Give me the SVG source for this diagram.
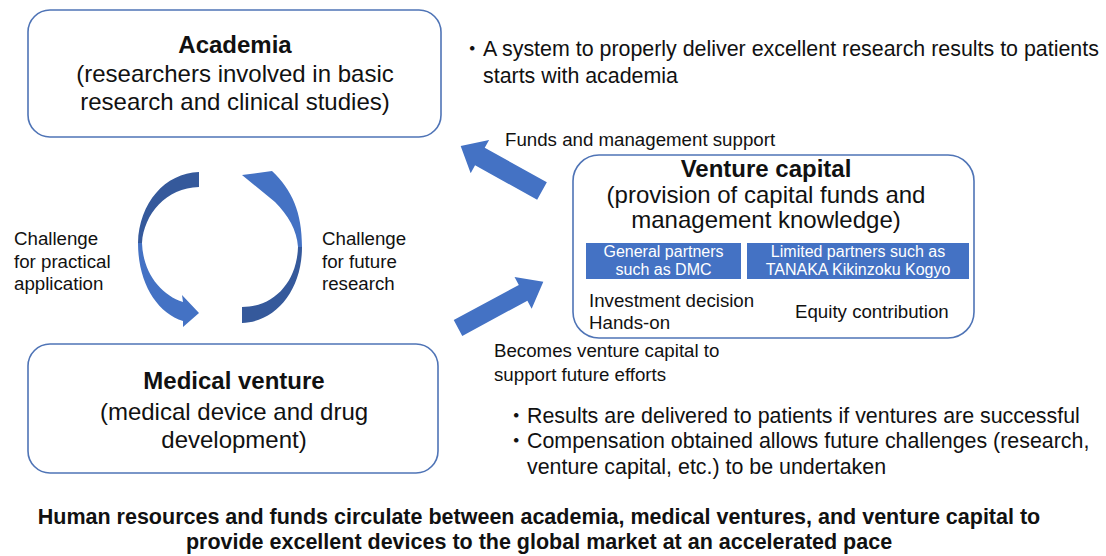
<svg xmlns="http://www.w3.org/2000/svg" width="1106" height="556" viewBox="0 0 1106 556">
<style>
.box{fill:#fff;stroke:#4F74B6;stroke-width:1.6}
.t{font-family:"Liberation Sans","Noto Sans CJK JP",Arial,sans-serif;fill:#111}
.h{font-size:24px;font-weight:bold;text-anchor:middle}
.s{font-size:24px;text-anchor:middle}
.m{font-size:18.7px}
.b{font-size:21.4px}
.bar{fill:#4472C4}
.bt{font-family:"Liberation Sans",Arial,sans-serif;font-size:16px;fill:#fff;text-anchor:middle}
.arr{fill:#4472C4}
.dark{fill:#35599B}
</style>
<rect width="1106" height="556" fill="#fff"/>

<g id="academia">
<rect class="box" x="28" y="10" width="413" height="127" rx="22"/>
<text class="t h" x="235" y="53">Academia</text>
<text class="t s" x="235" y="82">(researchers involved in basic</text>
<text class="t s" x="235" y="110">research and clinical studies)</text>
</g>

<g id="medical-venture">
<rect class="box" x="28" y="344" width="410" height="129" rx="22"/>
<text class="t h" x="234" y="389">Medical venture</text>
<text class="t s" x="234" y="420">(medical device and drug</text>
<text class="t s" x="234" y="448">development)</text>
</g>

<g id="venture-capital">
<rect class="box" x="573" y="155" width="401" height="183" rx="26"/>
<text class="t h" x="766" y="177">Venture capital</text>
<text class="t s" x="766" y="203">(provision of capital funds and</text>
<text class="t s" x="766" y="228">management knowledge)</text>
<rect class="bar" x="586" y="243" width="155" height="36"/>
<text class="bt" x="663.5" y="257">General partners</text>
<text class="bt" x="663.5" y="275">such as DMC</text>
<rect class="bar" x="747" y="243" width="222" height="36"/>
<text class="bt" x="858" y="257">Limited partners such as</text>
<text class="bt" x="858" y="275">TANAKA Kikinzoku Kogyo</text>
<text class="t m" x="589" y="307">Investment decision</text>
<text class="t m" x="589" y="329">Hands-on</text>
<text class="t m" x="795" y="318">Equity contribution</text>
</g>

<g id="connectors">
<path class="dark" d="M199,172 C165,173 139,203 138,243 L142,243 C144,214 166,188 199,187 Z"/>
<path class="arr" d="M138,243 C138,283 157,313 183,321 L183,327 L199,313 L182,295 L183,302 C161,295 143,273 142,243 Z"/>
<path class="dark" d="M242,323 C276,322 302,290 302,247 L298,247 C297,281 275,307 242,307 Z"/>
<path class="arr" d="M302,247 C302,212 292,190 272,171 L242,175 L275,202 C288,215 297,230 298,247 Z"/>
<polygon class="arr" transform="translate(542,191) rotate(-151)" points="0,-10 71,-10 71,-19 93,0 71,19 71,10 0,10"/>
<polygon class="arr" transform="translate(458,328) rotate(-28.4)" points="0,-9 74,-9 74,-18 97,0 74,18 74,9 0,9"/>
</g>

<g id="labels">
<text class="t m" x="14" y="245">Challenge</text>
<text class="t m" x="14" y="268">for practical</text>
<text class="t m" x="14" y="290">application</text>
<text class="t m" x="322" y="245">Challenge</text>
<text class="t m" x="322" y="268">for future</text>
<text class="t m" x="322" y="290">research</text>
<text class="t m" x="505" y="146">Funds and management support</text>
<text class="t m" x="494" y="357">Becomes venture capital to</text>
<text class="t m" x="494" y="381">support future efforts</text>
<text class="t b" x="461.6" y="56">・A system to properly deliver excellent research results to patients</text>
<text class="t b" x="483" y="83">starts with academia</text>
<text class="t b" x="505.6" y="423">・Results are delivered to patients if ventures are successful</text>
<text class="t b" x="505.6" y="448">・Compensation obtained allows future challenges (research,</text>
<text class="t b" x="527" y="474">venture capital, etc.) to be undertaken</text>
<text class="t" x="539" y="524" style="font-size:21.5px;font-weight:bold;text-anchor:middle">Human resources and funds circulate between academia, medical ventures, and venture capital to</text>
<text class="t" x="539" y="549" style="font-size:21.5px;font-weight:bold;text-anchor:middle">provide excellent devices to the global market at an accelerated pace</text>
</g>
</svg>
